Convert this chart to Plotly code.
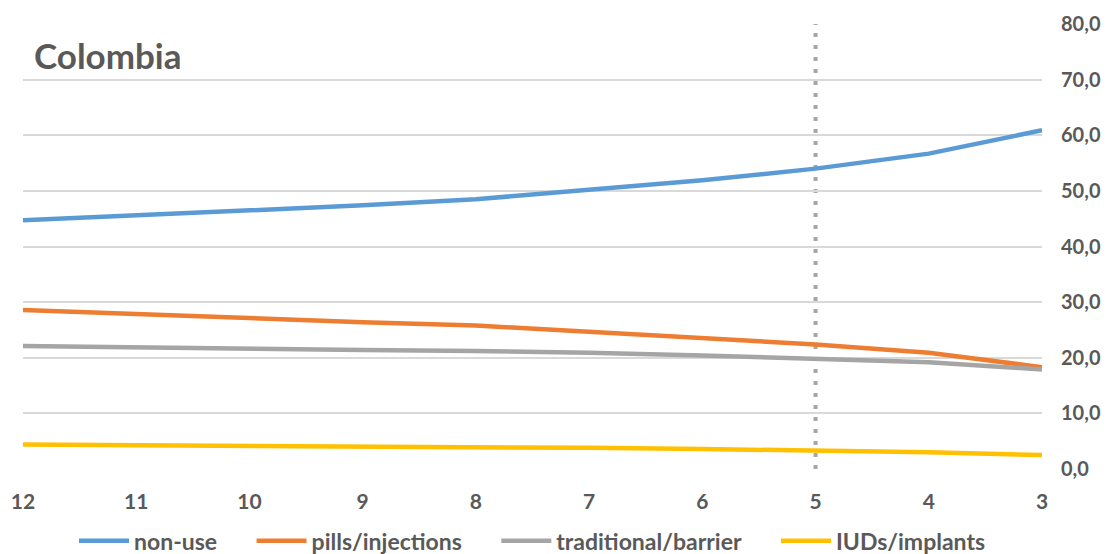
import plotly.graph_objects as go

x_vals = [12, 11, 10, 9, 8, 7, 6, 5, 4, 3]
non_use = [44.7, 45.6, 46.4, 47.4, 48.5, 50.2, 51.9, 54.0, 56.7, 60.9]
pills_injections = [28.6, 27.8, 27.0, 26.4, 25.8, 24.7, 23.7, 22.4, 20.9, 18.3]
traditional_barrier = [22.1, 21.8, 21.6, 21.4, 21.2, 20.9, 20.4, 19.9, 19.2, 17.9]
iuds_implants = [4.4, 4.3, 4.2, 4.1, 4.0, 3.8, 3.6, 3.3, 3.0, 2.5]
y_ticks = [0, 10, 20, 30, 40, 50, 60, 70, 80]

series = [
    ("non-use", non_use, "#5b9bd5"),
    ("pills/injections", pills_injections, "#ed7d31"),
    ("traditional/barrier", traditional_barrier, "#a5a5a5"),
    ("IUDs/implants", iuds_implants, "#ffc000"),
]

FONT = "Lato"
GRAY = "#595959"
GAP = "&nbsp;" * 5

fig = go.Figure()
for i, (name, vals, color) in enumerate(series):
    label = "<b>" + name + "</b>" + (GAP if i < len(series) - 1 else "")
    fig.add_trace(go.Scatter(x=x_vals, y=vals, mode="lines", name=label,
                             line=dict(color=color, width=4.5)))

fig.add_shape(type="line", xref="x", yref="y", x0=5, x1=5, y0=0, y1=80,
              line=dict(color="#a6a6a6", width=4, dash="4px,8px"), layer="below")

fig.add_annotation(text="<b>Colombia</b>", xref="paper", yref="paper",
                   x=0.009, y=0.93, xanchor="left", yanchor="middle",
                   showarrow=False, font=dict(family=FONT, size=35, color=GRAY))

# The page body has an 8px margin, so the figure is sized and placed to compensate.
fig.update_layout(
    width=1102, height=546,
    margin=dict(l=15, r=68, t=16, b=85, autoexpand=False),
    paper_bgcolor="white", plot_bgcolor="white",
    font=dict(family=FONT, color=GRAY, size=18),
    showlegend=True,
    legend=dict(orientation="h", x=0.5, xanchor="center",
                yref="container", y=0.024, yanchor="middle",
                font=dict(family=FONT, size=23, color=GRAY),
                itemwidth=50, tracegroupgap=0),
    xaxis=dict(range=[12, 3], tickvals=x_vals, ticktext=[f"<b>{v}</b>" for v in x_vals],
               showgrid=False, zeroline=False, showline=False, ticks="",
               automargin=False, ticklabelstandoff=18,
               tickfont=dict(family=FONT, size=21, color=GRAY)),
    yaxis=dict(range=[0, 80], side="right", tickvals=y_ticks,
               ticktext=[f"<b>{v:.1f}</b>".replace(".", ",") for v in y_ticks],
               showgrid=True, gridcolor="#d9d9d9", gridwidth=1.5,
               zeroline=False, showline=False, ticks="",
               automargin=False, ticklabelstandoff=18,
               tickfont=dict(family=FONT, size=20, color=GRAY)),
)

fig.write_html("out.html")
